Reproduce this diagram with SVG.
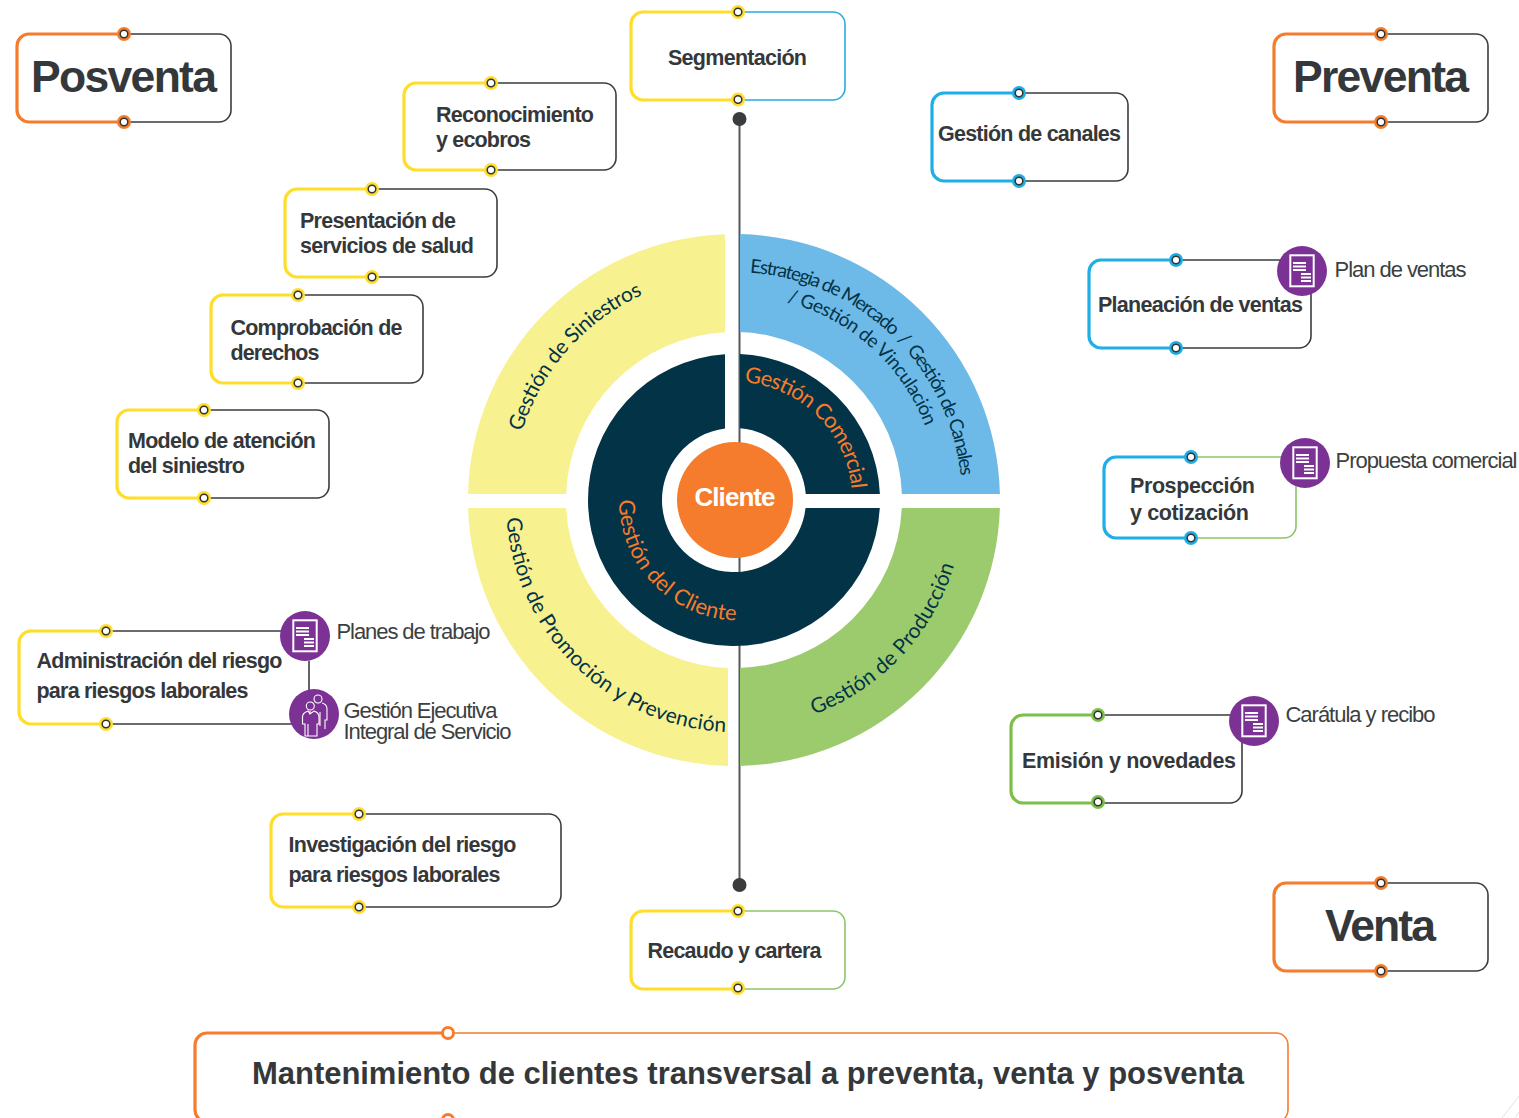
<svg xmlns="http://www.w3.org/2000/svg" xmlns:xlink="http://www.w3.org/1999/xlink" width="1519" height="1118" viewBox="0 0 1519 1118">
<style>
.thick{fill:none;stroke-width:3.2}
.thin{fill:none;stroke-width:1.6}
.y{stroke:#FFDD2B}.b{stroke:#1FAEE5}.g{stroke:#7CC04A}.o{stroke:#F57C2C}.k{stroke:#3A3D40}.lg{stroke:#8CC665}.lb{stroke:#29ABE2}
.dy{fill:#FFDD2B}.db{fill:#1FAEE5}.dg{fill:#7CC04A}.do{fill:#F57C2C}
.dotin{fill:#fff;stroke:#333;stroke-width:1.5}
.t{font-family:"Liberation Sans",Arial,sans-serif;font-weight:700;font-size:21.5px;fill:#35383A}
.h{font-family:"Liberation Sans",Arial,sans-serif;font-weight:700;font-size:44.5px;fill:#35383A}
.r{font-family:"Liberation Sans",Arial,sans-serif;font-size:22px;fill:#3C3F41}
.a{font-family:Lato,"Open Sans",sans-serif;font-size:21px;white-space:pre}
.a2{font-size:19px}
.ad{fill:#033347}.ao{fill:#F57C2C;font-size:22px}
.ic{fill:#7B3294}
.il{fill:none;stroke:#fff;stroke-width:2}
.ip{fill:none;stroke:#fff;stroke-width:1.1}
.arc{fill:none}
</style>
<defs>
<g id="dy"><circle r="7" class="dy"/><circle r="3.8" class="dotin"/></g>
<g id="db"><circle r="7" class="db"/><circle r="3.8" class="dotin"/></g>
<g id="dg"><circle r="7" class="dg"/><circle r="3.8" class="dotin"/></g>
<g id="do"><circle r="7" class="do"/><circle r="3.8" class="dotin"/></g>
<g id="doc"><circle r="25" class="ic"/><rect x="-11.7" y="-15.7" width="23.4" height="31" class="il"/><path class="il" d="M-9-8H4M-9-4.500H4M-9-1H4M-1 3H9M-1 6.500H9M-1 10H9"/></g>
<path id="p1" class="arc" d="M749.900 272.600A228 228 0 0 1 960.700 476.200"/>
<path id="p2" class="arc" d="M787 302A205 205 0 0 1 925.400 426.500"/>
<path id="p3" class="arc" d="M744.300 382.400A118 118 0 0 1 851.600 489"/>
<path id="p4" class="arc" d="M522 431.700A223 223 0 0 1 642 295"/>
<path id="p5" class="arc" d="M619 500A120 120 0 0 0 738 620.500"/>
<path id="p6" class="arc" d="M506.500 518A230 230 0 0 0 727 732"/>
<path id="p7" class="arc" d="M814 714.500A229 229 0 0 0 955 562"/>
</defs>

<g id="connectors">
<path d="M739.500 119V885" stroke="#55585A" stroke-width="2" fill="none"/>
<circle cx="739.500" cy="119" r="7" fill="#3A3C3E"/>
<circle cx="739.500" cy="885" r="7" fill="#3A3C3E"/>
<path d="M309 661V690" stroke="#3A3D40" stroke-width="1.600" fill="none"/>
</g>

<g id="ring-blue"><path fill="#6DBAE8" d="M740 234.100A266 266 0 0 1 999.900 494L901.900 494A168 168 0 0 0 740 332.100Z"/>
<text class="a a2 ad"><textPath xlink:href="#p1" href="#p1" textLength="318">Estrategia de Mercado  /  Gestión de Canales</textPath></text>
<text class="a a2 ad"><textPath xlink:href="#p2" href="#p2" textLength="193">/ Gestión de Vinculación</textPath></text></g>
<g id="ring-green"><path fill="#9BCB6C" d="M999.900 508A266 266 0 0 1 740 765.900L740 667.900A168 168 0 0 0 901.800 508Z"/>
<text class="a ad"><textPath xlink:href="#p7" href="#p7" textLength="212">Gestión de Producción</textPath></text></g>
<g id="ring-siniestros"><path fill="#F7F18F" d="M468.100 494A266 266 0 0 1 725 234.150L725 332.240A168 168 0 0 0 566.100 494Z"/>
<text class="a ad"><textPath xlink:href="#p4" href="#p4" textLength="188">Gestión de Siniestros</textPath></text></g>
<g id="ring-promocion"><path fill="#F7F18F" d="M468.100 508L566.200 508A168 168 0 0 0 728 667.900L728 765.900A266 266 0 0 1 468.100 508Z"/>
<text class="a ad"><textPath xlink:href="#p6" href="#p6" textLength="335">Gestión de Promoción y Prevención</textPath></text></g>
<g id="ring-comercial"><path fill="#033347" d="M740 354.100A146 146 0 0 1 879.900 494L805.750 494A72 72 0 0 0 740 428.250Z"/>
<text class="a ao"><textPath xlink:href="#p3" href="#p3" textLength="164">Gestión Comercial</textPath></text></g>
<g id="ring-cliente"><path fill="#033347" d="M725 354.300A146 146 0 1 0 879.800 508L805.550 508A72 72 0 1 1 725 428.600Z"/>
<text class="a ao"><textPath xlink:href="#p5" href="#p5" textLength="186">Gestión del Cliente</textPath></text></g>
<g id="cliente"><circle cx="735" cy="500" r="58" fill="#F57C2C"/><text class="t" x="735" y="506" text-anchor="middle" textLength="81" style="font-size:26px;fill:#fff">Cliente</text></g>

<g id="posventa"><path class="thin k" d="M124 34H219A12 12 0 0 1 231 46V110A12 12 0 0 1 219 122H124"/><path class="thick o" d="M124 34H29A12 12 0 0 0 17 46V110A12 12 0 0 0 29 122H124"/><use href="#do" x="124" y="34"/><use href="#do" x="124" y="122"/><text class="h" x="31" y="92" textLength="186">Posventa</text></g>
<g id="preventa"><path class="thin k" d="M1381 34H1476A12 12 0 0 1 1488 46V110A12 12 0 0 1 1476 122H1381"/><path class="thick o" d="M1381 34H1286A12 12 0 0 0 1274 46V110A12 12 0 0 0 1286 122H1381"/><use href="#do" x="1381" y="34"/><use href="#do" x="1381" y="122"/><text class="h" x="1293" y="92" textLength="176">Preventa</text></g>
<g id="venta"><path class="thin k" d="M1381 883H1476A12 12 0 0 1 1488 895V959A12 12 0 0 1 1476 971H1381"/><path class="thick o" d="M1381 883H1286A12 12 0 0 0 1274 895V959A12 12 0 0 0 1286 971H1381"/><use href="#do" x="1381" y="883"/><use href="#do" x="1381" y="971"/><text class="h" x="1325" y="941" textLength="111">Venta</text></g>

<g id="segmentacion"><path class="thin lb" d="M738 12H833A12 12 0 0 1 845 24V88A12 12 0 0 1 833 100H738"/><path class="thick y" d="M738 12H643A12 12 0 0 0 631 24V88A12 12 0 0 0 643 100H738"/><use href="#dy" x="738" y="12"/><use href="#dy" x="738" y="99.500"/><text class="t" x="668" y="65" textLength="139">Segmentación</text></g>
<g id="reconocimiento"><path class="thin k" d="M491 83H604A12 12 0 0 1 616 95V158A12 12 0 0 1 604 170H491"/><path class="thick y" d="M491 83H416A12 12 0 0 0 404 95V158A12 12 0 0 0 416 170H491"/><use href="#dy" x="491" y="83"/><use href="#dy" x="491" y="170"/><text class="t" x="436" y="122" textLength="158">Reconocimiento</text><text class="t" x="436" y="147" textLength="95">y ecobros</text></g>
<g id="presentacion"><path class="thin k" d="M372 189H485A12 12 0 0 1 497 201V265A12 12 0 0 1 485 277H372"/><path class="thick y" d="M372 189H297A12 12 0 0 0 285 201V265A12 12 0 0 0 297 277H372"/><use href="#dy" x="372" y="189"/><use href="#dy" x="372" y="277"/><text class="t" x="300" y="228" textLength="156">Presentación de</text><text class="t" x="300" y="253" textLength="174">servicios de salud</text></g>
<g id="comprobacion"><path class="thin k" d="M298 295H411A12 12 0 0 1 423 307V371A12 12 0 0 1 411 383H298"/><path class="thick y" d="M298 295H223A12 12 0 0 0 211 307V371A12 12 0 0 0 223 383H298"/><use href="#dy" x="298" y="295"/><use href="#dy" x="298" y="383"/><text class="t" x="230.500" y="335" textLength="172">Comprobación de</text><text class="t" x="230.500" y="360" textLength="89">derechos</text></g>
<g id="modelo"><path class="thin k" d="M204 410H317A12 12 0 0 1 329 422V486A12 12 0 0 1 317 498H204"/><path class="thick y" d="M204 410H129A12 12 0 0 0 117 422V486A12 12 0 0 0 129 498H204"/><use href="#dy" x="204" y="410"/><use href="#dy" x="204" y="498"/><text class="t" x="128" y="448" textLength="188">Modelo de atención</text><text class="t" x="128" y="473" textLength="117">del siniestro</text></g>
<g id="administracion"><path class="thin k" d="M106 631H305M106 724H309"/><path class="thick y" d="M106 631H31A12 12 0 0 0 19 643V712A12 12 0 0 0 31 724H106"/><use href="#dy" x="106" y="631"/><use href="#dy" x="106" y="724"/><text class="t" x="36.500" y="668" textLength="246">Administración del riesgo</text><text class="t" x="36.500" y="698" textLength="212">para riesgos laborales</text></g>
<g id="investigacion"><path class="thin k" d="M359 814H549A12 12 0 0 1 561 826V895A12 12 0 0 1 549 907H359"/><path class="thick y" d="M359 814H283A12 12 0 0 0 271 826V895A12 12 0 0 0 283 907H359"/><use href="#dy" x="359" y="814"/><use href="#dy" x="359" y="907"/><text class="t" x="288.500" y="852" textLength="228">Investigación del riesgo</text><text class="t" x="288.500" y="882" textLength="212">para riesgos laborales</text></g>
<g id="recaudo"><path class="thin lg" d="M738 911H833A12 12 0 0 1 845 923V977A12 12 0 0 1 833 989H738"/><path class="thick y" d="M738 911H643A12 12 0 0 0 631 923V977A12 12 0 0 0 643 989H738"/><use href="#dy" x="738" y="911"/><use href="#dy" x="738" y="988"/><text class="t" x="647.500" y="958" textLength="174">Recaudo y cartera</text></g>
<g id="canales"><path class="thin k" d="M1019 93H1116A12 12 0 0 1 1128 105V169A12 12 0 0 1 1116 181H1019"/><path class="thick b" d="M1019 93H944A12 12 0 0 0 932 105V169A12 12 0 0 0 944 181H1019"/><use href="#db" x="1019" y="93"/><use href="#db" x="1019" y="181"/><text class="t" x="938" y="141" textLength="183">Gestión de canales</text></g>
<g id="planeacion"><path class="thin k" d="M1176 260H1299A12 12 0 0 1 1311 272V336A12 12 0 0 1 1299 348H1176"/><path class="thick b" d="M1176 260H1101A12 12 0 0 0 1089 272V336A12 12 0 0 0 1101 348H1176"/><use href="#db" x="1176" y="260"/><use href="#db" x="1176" y="348"/><text class="t" x="1098" y="312" textLength="205">Planeación de ventas</text></g>
<g id="plan-ventas"><use href="#doc" x="1302" y="271"/><text class="r" x="1334.500" y="277" textLength="132">Plan de ventas</text></g>
<g id="prospeccion"><path class="thin lg" d="M1191 457H1284A12 12 0 0 1 1296 469V526A12 12 0 0 1 1284 538H1191"/><path class="thick b" d="M1191 457H1116A12 12 0 0 0 1104 469V526A12 12 0 0 0 1116 538H1191"/><use href="#db" x="1191" y="457"/><use href="#db" x="1191" y="538"/><text class="t" x="1130" y="493" textLength="125">Prospección</text><text class="t" x="1130" y="520" textLength="119">y cotización</text></g>
<g id="propuesta"><use href="#doc" x="1305" y="463"/><text class="r" x="1335.500" y="468" textLength="182">Propuesta comercial</text></g>
<g id="emision"><path class="thin k" d="M1098 715H1230A12 12 0 0 1 1242 727V791A12 12 0 0 1 1230 803H1098"/><path class="thick g" d="M1098 715H1023A12 12 0 0 0 1011 727V791A12 12 0 0 0 1023 803H1098"/><use href="#dg" x="1098" y="715"/><use href="#dg" x="1098" y="802"/><text class="t" x="1022" y="768" textLength="214">Emisión y novedades</text></g>
<g id="caratula"><use href="#doc" x="1254" y="721"/><text class="r" x="1285.500" y="722" textLength="150">Carátula y recibo</text></g>
<g id="planes"><use href="#doc" x="305" y="636"/><text class="r" x="336.500" y="639" textLength="154">Planes de trabajo</text></g>
<g id="gestion-ejecutiva"><circle cx="314" cy="714" r="25" class="ic"/>
<g transform="translate(314 714)"><circle cx="4" cy="-15" r="4" class="ip"/><circle cx="-3.700" cy="-8" r="4" class="ip"/><path class="ip" d="M8-11C12-10 13-8 13-5V6H11V15M6 12V-2"/><path class="ip" d="M-4-3L-4 0 0-3C3-2 5-1 5 3V10H3V22H-6V10M-6 22H-9V10H-11.500V3C-11.500-1-9-2-6-3L-4 0"/></g>
<text class="r" x="343.500" y="718" textLength="154">Gestión Ejecutiva</text><text class="r" x="343.500" y="739" textLength="168">Integral de Servicio</text></g>

<g id="mantenimiento"><path class="thin o" d="M448 1033H1276A12 12 0 0 1 1288 1045V1110A12 12 0 0 1 1276 1122H448"/><path class="thick o" d="M448 1033H207A12 12 0 0 0 195 1045V1110A12 12 0 0 0 207 1122H448"/>
<circle cx="448" cy="1033" r="5.500" fill="#fff" stroke="#F57C2C" stroke-width="3"/><circle cx="448" cy="1120" r="5.500" fill="#fff" stroke="#F57C2C" stroke-width="3"/>
<text class="t" x="252" y="1084" textLength="992" style="font-size:31px">Mantenimiento de clientes transversal a preventa, venta y posventa</text></g>
<path d="M1502 1118L1519 1096M1515 1118L1519 1112" stroke="#E2E2E2" stroke-width="1" fill="none"/>
</svg>
